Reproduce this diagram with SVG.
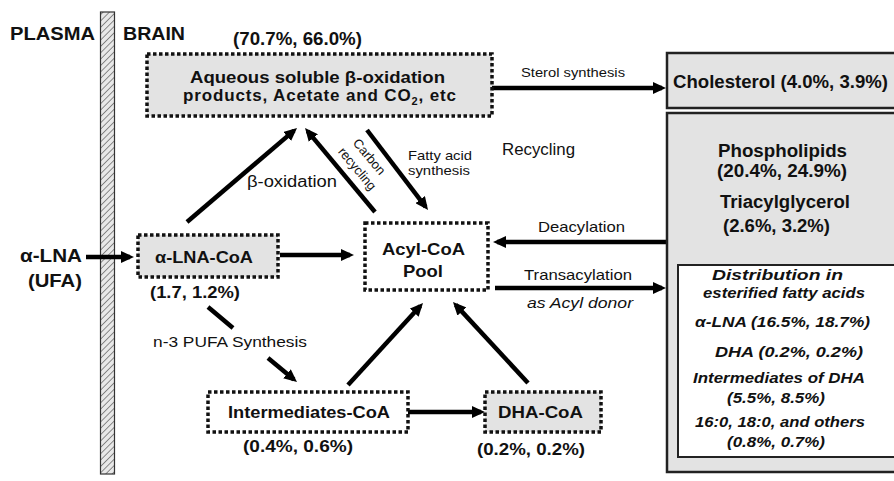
<svg xmlns="http://www.w3.org/2000/svg" width="894" height="481" viewBox="0 0 894 481">
<style>
text{font-family:"Liberation Sans",Arial,sans-serif;fill:#111}
.b{font-weight:bold}
.i{font-style:italic}
.dot{stroke:#111;stroke-width:3.5;stroke-dasharray:3.5 2.5}
.g{fill:#e3e3e3}
.w{fill:#fff}
.solid{stroke:#222;stroke-width:2.5}
.ln{stroke:#000;stroke-width:4.5;fill:none}
.ar{marker-end:url(#ah)}
</style>
<defs>
<marker id="ah" viewBox="0 0 13 12" refX="9" refY="6" markerWidth="13" markerHeight="12" markerUnits="userSpaceOnUse" orient="auto">
<path d="M0,0 L13,6 L0,12 z" fill="#000"/>
</marker>
<pattern id="hatch" width="4.5" height="4.5" patternUnits="userSpaceOnUse" patternTransform="rotate(45)">
<rect width="4.5" height="4.5" fill="#e8e8e8"/>
<line x1="0" y1="0" x2="0" y2="4.5" stroke="#555" stroke-width="1.3"/>
</pattern>
</defs>
<rect width="894" height="481" fill="#fff"/>

<g id="barrier">
<rect x="100.5" y="12" width="14" height="462" fill="url(#hatch)" stroke="#333" stroke-width="1.2"/>
<text class="b" x="10" y="40" font-size="19" textLength="85" lengthAdjust="spacingAndGlyphs">PLASMA</text>
<text class="b" x="123" y="40" font-size="19" textLength="62" lengthAdjust="spacingAndGlyphs">BRAIN</text>
</g>

<g id="connectors">
<line class="ln ar" x1="86" y1="257" x2="130" y2="257"/>
<line class="ln ar" x1="280" y1="255" x2="350" y2="255"/>
<line class="ln ar" x1="187" y1="222" x2="294" y2="130.6"/>
<line class="ln ar" x1="375" y1="212" x2="307.6" y2="131.1"/>
<line class="ln ar" x1="367" y1="130" x2="425.6" y2="206.8"/>
<line class="ln ar" x1="492" y1="88" x2="662" y2="88"/>
<line class="ln ar" x1="667" y1="242" x2="497" y2="242"/>
<line class="ln ar" x1="495" y1="288" x2="662" y2="288"/>
<line class="ln" x1="208" y1="307" x2="233" y2="328"/>
<line class="ln ar" x1="268" y1="358" x2="293.9" y2="379.5"/>
<line class="ln ar" x1="348" y1="385" x2="420.3" y2="306"/>
<line class="ln ar" x1="528" y1="383" x2="455.7" y2="304.9"/>
<line class="ln ar" x1="408" y1="412" x2="481" y2="412"/>
<text x="521" y="77" font-size="13" textLength="104" lengthAdjust="spacingAndGlyphs">Sterol synthesis</text>
<text x="247" y="187" font-size="16" textLength="90" lengthAdjust="spacingAndGlyphs">β-oxidation</text>
<text x="369" y="161" font-size="13" text-anchor="middle" transform="rotate(50 369 157)">Carbon</text>
<text x="357" y="173" font-size="13" text-anchor="middle" transform="rotate(50 357 169)">recycling</text>
<text x="408" y="160" font-size="13" textLength="64" lengthAdjust="spacingAndGlyphs">Fatty acid</text>
<text x="408" y="175" font-size="13" textLength="62" lengthAdjust="spacingAndGlyphs">synthesis</text>
<text x="502" y="155" font-size="16" textLength="73" lengthAdjust="spacingAndGlyphs">Recycling</text>
<text x="538" y="232" font-size="15" textLength="87" lengthAdjust="spacingAndGlyphs">Deacylation</text>
<text x="524" y="280" font-size="15" textLength="108" lengthAdjust="spacingAndGlyphs">Transacylation</text>
<text class="i" x="527" y="308" font-size="15" textLength="106" lengthAdjust="spacingAndGlyphs">as Acyl donor</text>
<text x="153" y="347" font-size="15.5" textLength="154" lengthAdjust="spacingAndGlyphs">n-3 PUFA Synthesis</text>
</g>

<g id="node-alna">
<text class="b" x="20" y="262" font-size="18" textLength="62" lengthAdjust="spacingAndGlyphs">α-LNA</text>
<text class="b" x="28" y="287" font-size="18" textLength="54" lengthAdjust="spacingAndGlyphs">(UFA)</text>
</g>

<g id="node-aqueous">
<rect class="g dot" x="147" y="54" width="345" height="62"/>
<text class="b" x="233" y="45" font-size="18" textLength="129" lengthAdjust="spacingAndGlyphs">(70.7%, 66.0%)</text>
<text class="b" x="190" y="83" font-size="17" textLength="255" lengthAdjust="spacingAndGlyphs">Aqueous soluble β-oxidation</text>
<text class="b" x="183" y="101" font-size="17" letter-spacing="0.85">products, Acetate and CO<tspan font-size="11" dy="4">2</tspan><tspan dy="-4">, etc</tspan></text>
</g>

<g id="node-cholesterol">
<rect class="g solid" x="667" y="53" width="240" height="55"/>
<text class="b" x="673" y="88" font-size="18" textLength="215" lengthAdjust="spacingAndGlyphs">Cholesterol (4.0%, 3.9%)</text>
</g>

<g id="node-lipids">
<rect class="g solid" x="667" y="113" width="240" height="359"/>
<text class="b" x="718" y="157" font-size="18" textLength="129" lengthAdjust="spacingAndGlyphs">Phospholipids</text>
<text class="b" x="717" y="177" font-size="18" textLength="130" lengthAdjust="spacingAndGlyphs">(20.4%, 24.9%)</text>
<text class="b" x="720" y="208" font-size="18" textLength="130" lengthAdjust="spacingAndGlyphs">Triacylglycerol</text>
<text class="b" x="723" y="232" font-size="18" textLength="107" lengthAdjust="spacingAndGlyphs">(2.6%, 3.2%)</text>
<rect class="w" x="678" y="265" width="230" height="192" stroke="#222" stroke-width="2"/>
<g font-size="15.5">
<text class="b i" x="712" y="280" textLength="131" lengthAdjust="spacingAndGlyphs">Distribution in</text>
<text class="b i" x="703" y="298" textLength="162" lengthAdjust="spacingAndGlyphs">esterified fatty acids</text>
<text class="b i" x="695" y="327" textLength="175" lengthAdjust="spacingAndGlyphs">α-LNA (16.5%, 18.7%)</text>
<text class="b i" x="715" y="357" textLength="148" lengthAdjust="spacingAndGlyphs">DHA (0.2%, 0.2%)</text>
<text class="b i" x="693" y="383" textLength="172" lengthAdjust="spacingAndGlyphs">Intermediates of DHA</text>
<text class="b i" x="727" y="403" textLength="98" lengthAdjust="spacingAndGlyphs">(5.5%, 8.5%)</text>
<text class="b i" x="695" y="427" textLength="170" lengthAdjust="spacingAndGlyphs">16:0, 18:0, and others</text>
<text class="b i" x="727" y="447" textLength="98" lengthAdjust="spacingAndGlyphs">(0.8%, 0.7%)</text>
</g>
</g>

<g id="node-alna-coa">
<rect class="g dot" x="138" y="235" width="140" height="42"/>
<text class="b" x="155" y="263" font-size="16.5" textLength="98" lengthAdjust="spacingAndGlyphs">α-LNA-CoA</text>
<text class="b" x="150" y="298" font-size="17" textLength="90" lengthAdjust="spacingAndGlyphs">(1.7, 1.2%)</text>
</g>

<g id="node-pool">
<rect class="w dot" x="365" y="223" width="123" height="67"/>
<text class="b" x="382" y="255" font-size="17" textLength="83" lengthAdjust="spacingAndGlyphs">Acyl-CoA</text>
<text class="b" x="403" y="277" font-size="17" textLength="40" lengthAdjust="spacingAndGlyphs">Pool</text>
</g>

<g id="node-intermediates">
<rect class="w dot" x="208" y="392" width="200" height="40"/>
<text class="b" x="228" y="418" font-size="16.5" textLength="162" lengthAdjust="spacingAndGlyphs">Intermediates-CoA</text>
<text class="b" x="243" y="452" font-size="17" textLength="110" lengthAdjust="spacingAndGlyphs">(0.4%, 0.6%)</text>
</g>

<g id="node-dha">
<rect class="g dot" x="485" y="392" width="116" height="40"/>
<text class="b" x="498" y="418" font-size="17" textLength="85" lengthAdjust="spacingAndGlyphs">DHA-CoA</text>
<text class="b" x="477" y="455" font-size="17" textLength="108" lengthAdjust="spacingAndGlyphs">(0.2%, 0.2%)</text>
</g>
</svg>
